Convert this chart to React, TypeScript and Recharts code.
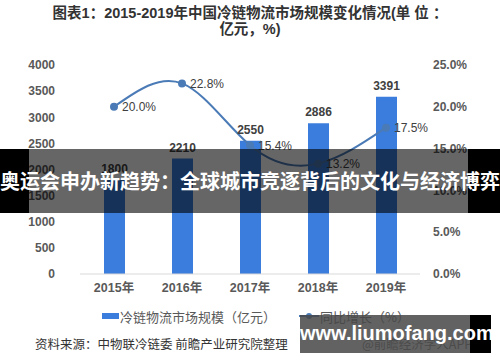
import {
  ComposedChart,
  Bar,
  Line,
  XAxis,
  YAxis,
  LabelList,
} from "recharts";

const years = ["2015年", "2016年", "2017年", "2018年", "2019年"];
const marketSize = [1800, 2210, 2550, 2886, 3391];
const growth = [20.0, 22.8, 15.4, 13.2, 17.5];
const leftTicks = [0, 500, 1000, 1500, 2000, 2500, 3000, 3500, 4000];
const rightTicks = [0, 5, 10, 15, 20, 25];

const data = years.map((year, i) => ({
  year,
  size: marketSize[i],
  growth: growth[i],
}));

const numFont = "'Liberation Sans', 'Noto Sans CJK SC', sans-serif";
const cjkFont = "'Noto Sans CJK SC', 'Liberation Sans', sans-serif";

const barColor = "#3b7ddc";
const lineColor = "#4b7bb6";

export default function App() {
  return (
    <div
      style={{
        position: "absolute",
        left: 0,
        top: 0,
        width: 500,
        height: 362,
        background: "#fff",
        overflow: "hidden",
        fontFamily: cjkFont,
      }}
    >
      <div
        style={{
          position: "absolute",
          top: 5,
          left: 0,
          width: 500,
          textAlign: "center",
          fontSize: 14.5,
          fontWeight: 700,
          color: "#333",
          lineHeight: "16px",
          fontFamily: numFont,
        }}
      >
        <div>图表1：2015-2019年中国冷链物流市场规模变化情况(单 位 ：</div>
        <div>亿元，%)</div>
      </div>

      <div style={{ position: "absolute", left: 0, top: 0 }}>
        <ComposedChart
          width={500}
          height={362}
          data={data}
          margin={{ top: 65, right: 0, bottom: 58, left: 0 }}
        >
          <XAxis
            dataKey="year"
            tickLine={false}
            axisLine={{ stroke: "#d9d9d9" }}
            tick={{ fill: "#595959", fontSize: 12.5, fontWeight: 700, fontFamily: numFont }}
            tickMargin={3}
            height={30}
          />
          <YAxis
            yAxisId="left"
            width={80}
            domain={[0, 4000]}
            ticks={leftTicks}
            tickLine={false}
            axisLine={false}
            tickMargin={19}
            tick={{ fill: "#595959", fontSize: 12, fontWeight: 700, fontFamily: numFont }}
          />
          <YAxis
            yAxisId="right"
            orientation="right"
            width={80}
            domain={[0, 25]}
            ticks={rightTicks}
            tickLine={false}
            axisLine={false}
            tickMargin={7}
            tickFormatter={(v: number) => `${v.toFixed(1)}%`}
            tick={{ fill: "#595959", fontSize: 12, fontWeight: 700, fontFamily: numFont }}
          />
          <Bar
            yAxisId="left"
            dataKey="size"
            fill={barColor}
            barSize={21}
            isAnimationActive={false}
          >
            <LabelList
              dataKey="size"
              position="top"
              offset={7}
              fill="#404040"
              fontSize={12}
              fontWeight={700}
              fontFamily={numFont}
            />
          </Bar>
          <Line
            yAxisId="right"
            type="natural"
            dataKey="growth"
            stroke={lineColor}
            strokeWidth={2}
            dot={{ r: 3, fill: lineColor, stroke: lineColor }}
            isAnimationActive={false}
          >
            <LabelList
              dataKey="growth"
              position="right"
              offset={8}
              fill="#404040"
              fontSize={12}
              fontFamily={numFont}
              formatter={(v: number) => `${v.toFixed(1)}%`}
            />
          </Line>
        </ComposedChart>
      </div>

      {/* legend */}
      <div
        style={{
          position: "absolute",
          top: 306,
          left: 0,
          width: 500,
          height: 20,
          fontSize: 13,
          color: "#595959",
        }}
      >
        <div
          style={{
            position: "absolute",
            left: 102,
            top: 7,
            width: 17,
            height: 6,
            background: barColor,
          }}
        />
        <div style={{ position: "absolute", left: 120, top: 1 }}>
          冷链物流市场规模（亿元）
        </div>
        <div
          style={{
            position: "absolute",
            left: 299,
            top: 9,
            width: 20,
            height: 2,
            background: lineColor,
          }}
        />
        <div
          style={{
            position: "absolute",
            left: 306,
            top: 7,
            width: 6,
            height: 6,
            borderRadius: 3,
            background: lineColor,
          }}
        />
        <div style={{ position: "absolute", left: 320, top: 1 }}>同比增长（%）</div>
      </div>

      {/* source */}
      <div
        style={{
          position: "absolute",
          top: 334,
          left: 35,
          fontSize: 12.5,
          color: "#333",
          whiteSpace: "nowrap",
        }}
      >
        资料来源：中物联冷链委 前瞻产业研究院整理
      </div>
      <div
        style={{
          position: "absolute",
          top: 334,
          left: 362,
          fontSize: 12.5,
          color: "#666",
          whiteSpace: "nowrap",
        }}
      >
        @前瞻经济学人APP
      </div>

      {/* banner */}
      <div style={{ position: "absolute", left: 0, top: 149, width: 29, height: 64, background: "#000" }} />
      <div style={{ position: "absolute", left: 468, top: 149, width: 32, height: 64, background: "#000" }} />
      <div
        style={{
          position: "absolute",
          left: 29,
          top: 149,
          width: 439,
          height: 64,
          background: "rgba(0,0,0,0.6)",
        }}
      />
      <div
        style={{
          position: "absolute",
          left: 0,
          top: 167,
          width: 500,
          textAlign: "center",
          fontSize: 20,
          lineHeight: "28px",
          fontWeight: 700,
          color: "#fff",
          whiteSpace: "nowrap",
        }}
      >
        奥运会申办新趋势：全球城市竞逐背后的文化与经济博弈
      </div>

      {/* watermark */}
      <div
        style={{
          position: "absolute",
          left: 300,
          top: 315,
          width: 170,
          height: 38,
          background: "rgba(70,70,70,0.85)",
        }}
      />
      <div style={{ position: "absolute", left: 470, top: 315, width: 21, height: 38, background: "#000" }} />
      <div
        style={{
          position: "absolute",
          left: 300,
          top: 319,
          width: 191,
          textAlign: "center",
          fontSize: 20,
          fontWeight: 700,
          color: "#fff",
          fontFamily: numFont,
          lineHeight: "28px",
          whiteSpace: "nowrap",
        }}
      >
        www.liumofang.com
      </div>
    </div>
  );
}
